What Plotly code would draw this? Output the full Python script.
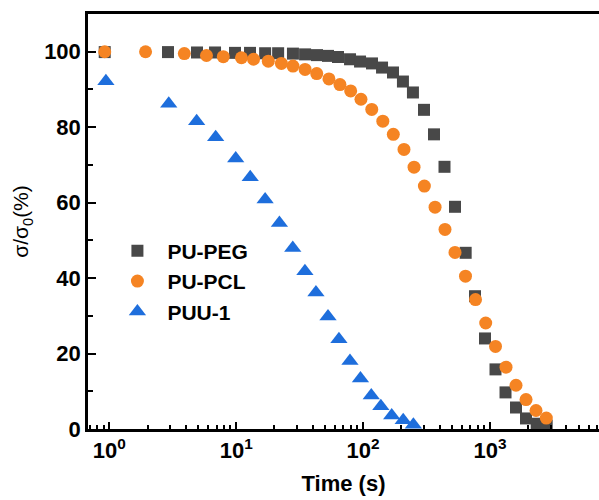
import plotly.graph_objects as go

# ---- data ----
peg_t = [0.92, 2.90, 4.91, 6.81, 9.78, 12.85, 16.9, 21.4, 28.0, 34.9, 43.3, 52.9, 63.4, 78.9,
         94.6, 117.5, 141, 172, 206, 247, 302, 362, 438, 530, 643, 762, 913, 1105, 1325,
         1603, 1922, 2334, 2798]
peg_v = [99.9, 99.9, 99.8, 99.8, 99.7, 99.7, 99.6, 99.6, 99.5, 99.3, 99.1, 98.9, 98.6, 98.0,
         97.4, 96.9, 95.8, 94.5, 92.1, 89.2, 84.6, 78.1, 69.5, 58.9, 46.7, 35.2, 24.0, 15.8,
         9.7, 5.7, 2.8, 1.4, 0.9]

pcl_t = [0.92, 1.93, 3.90, 5.83, 7.91, 11.0, 13.7, 17.9, 22.7, 28.0, 34.9, 43.1, 53.8, 65.7,
         79.8, 96.2, 117, 143, 173, 210, 252, 304, 369, 442, 530, 641, 769, 925, 1105, 1337,
         1603, 1923, 2305, 2778]
pcl_v = [100.0, 100.0, 99.5, 99.0, 98.7, 98.4, 98.0, 97.5, 96.9, 96.2, 95.3, 94.2, 92.8, 91.3,
         89.6, 87.4, 84.7, 81.6, 78.1, 74.1, 69.4, 64.4, 58.8, 52.9, 46.8, 40.5, 34.3, 28.1,
         21.9, 16.4, 11.6, 7.8, 4.9, 2.9]

puu_t = [0.94, 2.94, 4.88, 6.89, 9.91, 12.9, 16.9, 21.9, 27.9, 34.8, 42.5, 52.9, 64.5, 78.8,
         95.3, 116, 138, 168, 207, 249]
puu_v = [92.2, 86.2, 81.6, 77.3, 71.7, 66.7, 60.8, 54.6, 48.0, 41.8, 36.2, 29.8, 23.8, 18.0,
         13.4, 8.9, 6.0, 3.6, 2.3, 1.1]

series_names = ["PU-PEG", "PU-PCL", "PUU-1"]
x_tick_vals = [1, 10, 100, 1000]
x_tick_text = ["10<sup>0</sup>", "10<sup>1</sup>", "10<sup>2</sup>", "10<sup>3</sup>"]
y_tick_vals = [0, 20, 40, 60, 80, 100]

# ---- styles ----
FONT = "Liberation Sans, Arial, sans-serif"
colors = ["#484848", "#F58423", "#1E6EDC"]
symbols = ["square", "circle", "triangle-up"]
sizes = [12, 13, 15]

fig = go.Figure()
for name, t, v, c, s, sz in zip(series_names, [peg_t, pcl_t, puu_t], [peg_v, pcl_v, puu_v],
                                colors, symbols, sizes):
    fig.add_trace(go.Scatter(x=t, y=v, mode="markers", name=name,
                             marker=dict(symbol=s, size=sz, color=c, line=dict(width=0))))

minor_x = [m * 10 ** d for d in range(-1, 4) for m in range(2, 10)]

fig.update_layout(
    width=599, height=500,
    margin=dict(l=88, r=0, t=14, b=71),
    paper_bgcolor="white", plot_bgcolor="white",
    font=dict(family=FONT, color="black"),
    showlegend=True,
    legend=dict(x=0.038, y=0.478, xanchor="left", yanchor="top",
                font=dict(family=FONT, size=21, weight="bold", color="black"),
                itemwidth=50, bgcolor="rgba(0,0,0,0)", borderwidth=0),
    xaxis=dict(type="log", range=[-0.168, 3.859],
               tickmode="array", tickvals=x_tick_vals, ticktext=x_tick_text,
               ticks="inside", ticklen=7, tickwidth=2, tickcolor="black",
               showline=True, linewidth=2.5, linecolor="black", mirror=True,
               showgrid=False, zeroline=False,
               tickfont=dict(family=FONT, size=22, weight="bold"),
               minor=dict(tickmode="array", tickvals=minor_x, ticks="inside", ticklen=4,
                          tickwidth=2, tickcolor="black", showgrid=False),
               title=dict(text="Time (s)", font=dict(family=FONT, size=22, weight="bold"),
                          standoff=14)),
    yaxis=dict(range=[0, 110], tickmode="array", tickvals=y_tick_vals,
               ticks="inside", ticklen=8, tickwidth=2, tickcolor="black",
               showline=True, linewidth=2.5, linecolor="black",
               showgrid=False, zeroline=False,
               tickfont=dict(family=FONT, size=22, weight="bold"),
               minor=dict(dtick=10, ticks="inside", ticklen=5, tickwidth=2,
                          tickcolor="black", showgrid=False),
               title=dict(text="σ/σ<sub>0</sub>(%)", font=dict(family=FONT, size=21),
                          standoff=10)),
)

fig.write_html("out.html", config={"displayModeBar": False},
               post_script="document.body.style.margin='0';document.body.style.overflow='hidden';")
